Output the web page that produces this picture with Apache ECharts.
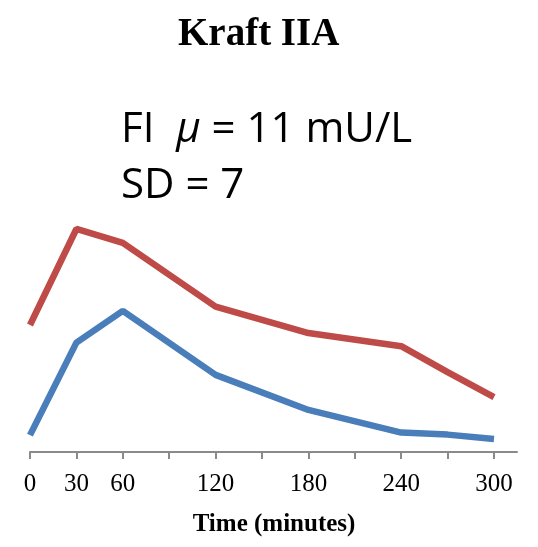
<!DOCTYPE html>
<html>
<head>
<meta charset="utf-8">
<script src="https://cdn.jsdelivr.net/npm/echarts@6/dist/echarts.min.js"></script>
<style>
  html, body { margin: 0; padding: 0; background: #fff; }
  #chart { width: 538px; height: 547px; }
</style>
</head>
<body>
<div id="chart"></div>
<script>
// 时间点（分钟）
var times = [0, 30, 60, 120, 180, 240, 270, 300];
// 两条曲线（纵轴无刻度，数值为估读）
var upperValues = [50.4, 88.5, 83.0, 57.7, 47.2, 42.0, 31.7, 21.8];
var lowerValues = [6.7, 43.4, 56.0, 30.6, 16.7, 7.7, 6.9, 5.2];
// 显示的刻度标签
var tickLabels = [0, 30, 60, 120, 180, 240, 300];

var chart = echarts.init(document.getElementById('chart'));

function pairs(vals) {
    return times.map(function (t, i) { return [t, vals[i]]; });
}

var option = {
    animation: false,
    title: [{
        text: 'Kraft IIA',
        left: 173,
        top: 10,
        textStyle: {
            fontFamily: 'Liberation Serif',
            fontWeight: 'bold',
            fontSize: 39,
            color: '#000'
        }
    }, {
        text: '{n|FI  }{mu|μ}{n| = 11 mU/L}\n{n|SD = 7}',
        left: 116,
        top: 97,
        textStyle: {
            fontWeight: 'normal',
            rich: {
                n: { fontFamily: 'Open Sans', fontWeight: 'normal', fontSize: 42, color: '#000', lineHeight: 56 },
                mu: { fontFamily: 'Open Sans', fontWeight: 'normal', fontStyle: 'italic', fontSize: 42, color: '#000', lineHeight: 56 }
            }
        }
    }],
    grid: [
        { left: 30, right: 44, top: 200, bottom: 95 },
        { left: 30, right: 21, top: 200, bottom: 95 }
    ],
    xAxis: [{
        type: 'value',
        gridIndex: 0,
        min: 0,
        max: 300,
        interval: 30,
        axisLine: { show: false },
        axisTick: { show: true, length: 7, lineStyle: { color: '#8a8a8a', width: 2 } },
        axisLabel: {
            margin: 20,
            fontFamily: 'Liberation Serif',
            fontSize: 25,
            color: '#000',
            formatter: function (v) {
                return tickLabels.indexOf(v) >= 0 ? String(v) : '';
            }
        },
        splitLine: { show: false },
        name: 'Time (minutes)',
        nameLocation: 'middle',
        nameGap: 60,
        nameTextStyle: {
            fontFamily: 'Liberation Serif',
            fontWeight: 'bold',
            fontSize: 25,
            color: '#000',
            padding: [0, 0, 0, 24]
        }
    }, {
        type: 'value',
        gridIndex: 1,
        min: 0,
        max: 1,
        axisLine: { show: true, lineStyle: { color: '#8a8a8a', width: 2 } },
        axisTick: { show: false },
        axisLabel: { show: false },
        splitLine: { show: false }
    }],
    yAxis: [{
        type: 'value',
        gridIndex: 0,
        min: 0,
        max: 100,
        show: false
    }, {
        type: 'value',
        gridIndex: 1,
        min: 0,
        max: 1,
        show: false
    }],
    series: [{
        name: 'upper',
        type: 'line',
        data: pairs(upperValues),
        symbol: 'none',
        lineStyle: { color: '#BE4B48', width: 6.5 }
    }, {
        name: 'lower',
        type: 'line',
        data: pairs(lowerValues),
        symbol: 'none',
        lineStyle: { color: '#4A7EBB', width: 6.5 }
    }]
};

chart.setOption(option);
</script>
</body>
</html>
